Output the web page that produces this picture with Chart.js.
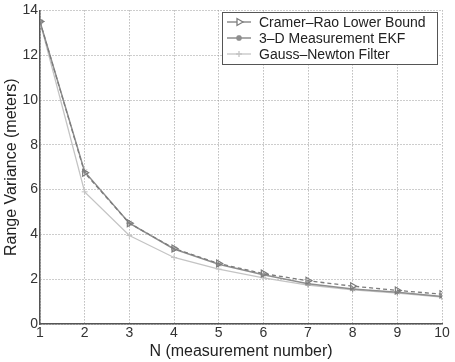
<!DOCTYPE html>
<html lang="en">
<head>
<meta charset="UTF-8">
<title>Range Variance vs N</title>
<script src="https://cdn.jsdelivr.net/npm/chart.js"></script>
<style>
    html, body { margin: 0; padding: 0; background: #ffffff; }
    #wrap { width: 455px; height: 362px; }
</style>
</head>
<body>
<div id="wrap"><canvas id="chart" width="455" height="362"></canvas></div>
<script>
// measurement count N
const nValues = [1, 2, 3, 4, 5, 6, 7, 8, 9, 10];
// range variance (meters) for each estimator
const crlb = [13.5, 6.75, 4.5, 3.37, 2.7, 2.25, 1.93, 1.69, 1.5, 1.33];
const ekf = [13.5, 6.8, 4.5, 3.35, 2.67, 2.2, 1.8, 1.56, 1.42, 1.23];
const gaussNewton = [13.5, 5.9, 3.95, 2.97, 2.45, 2.06, 1.74, 1.52, 1.38, 1.2];
const yTicks = [0, 2, 4, 6, 8, 10, 12, 14];

const FONT = "'Liberation Sans', Helvetica, Arial, sans-serif";
const toPoints = ys => nValues.map((n, i) => ({ x: n, y: ys[i] }));

// boxed legend in the upper right corner of the plot
const boxLegend = {
    id: 'boxLegend',
    afterDraw(chart) {
        const ctx = chart.ctx;
        const x0 = 222, y0 = 12, w = 215, h = 52;
        ctx.save();
        ctx.fillStyle = '#ffffff';
        ctx.fillRect(x0, y0, w, h);
        ctx.strokeStyle = '#555';
        ctx.lineWidth = 1;
        ctx.strokeRect(x0 + 0.5, y0 + 0.5, w, h);
        ctx.font = '14px ' + FONT;
        ctx.textBaseline = 'middle';
        chart.data.datasets.forEach((ds, i) => {
            const y = y0 + 10 + i * 16;
            ctx.strokeStyle = ds.borderColor;
            ctx.lineWidth = ds.borderWidth;
            ctx.setLineDash([]);
            ctx.beginPath();
            ctx.moveTo(x0 + 5, y);
            ctx.lineTo(x0 + 29, y);
            ctx.stroke();
            if (Chart.helpers && Chart.helpers.drawPoint) {
                Chart.helpers.drawPoint(ctx, {
                    pointStyle: ds.pointStyle,
                    rotation: ds.pointRotation || 0,
                    radius: ds.pointRadius,
                    borderWidth: ds.pointBorderWidth || 1
                }, x0 + 17, y);
            }
            ctx.fillStyle = '#222';
            ctx.fillText(ds.label, x0 + 37, y + 1);
        });
        ctx.restore();
    }
};

new Chart(document.getElementById('chart'), {
    type: 'line',
    data: {
        datasets: [{
            label: 'Cramer\u2013Rao Lower Bound',
            data: toPoints(crlb),
            borderColor: '#7c7c7c',
            borderWidth: 1.3,
            borderDash: [4, 3],
            pointStyle: 'triangle',
            pointRotation: 90,
            pointRadius: 4,
            pointBorderWidth: 1.2,
            pointBackgroundColor: 'rgba(255,255,255,0)',
            pointBorderColor: '#7c7c7c'
        }, {
            label: '3\u2013D Measurement EKF',
            data: toPoints(ekf),
            borderColor: '#8e8e8e',
            borderWidth: 1.5,
            pointStyle: 'star',
            pointRadius: 3,
            pointBorderWidth: 1,
            pointBackgroundColor: '#8e8e8e',
            pointBorderColor: '#8e8e8e'
        }, {
            label: 'Gauss\u2013Newton Filter',
            data: toPoints(gaussNewton),
            borderColor: '#c4c4c4',
            borderWidth: 1.3,
            pointStyle: 'cross',
            pointRadius: 3,
            pointBorderWidth: 1,
            pointBorderColor: '#c4c4c4'
        }]
    },
    options: {
        responsive: false,
        animation: false,
        devicePixelRatio: 1,
        layout: { padding: { top: 6, right: 13, left: 0, bottom: 0 } },
        plugins: { legend: { display: false }, tooltip: { enabled: false } },
        elements: { line: { tension: 0 } },
        scales: {
            x: {
                type: 'linear',
                min: 1,
                max: 10,
                afterFit: s => { s.height = 38; },
                ticks: {
                    stepSize: 1,
                    padding: 1,
                    color: '#333',
                    font: { family: FONT, size: 14 }
                },
                grid: { color: '#9a9a9a', lineWidth: 1, drawTicks: false },
                border: { color: '#555', width: 1.5, dash: [1, 2] },
                title: {
                    display: true,
                    text: 'N (measurement number)',
                    color: '#222',
                    padding: { top: 0, bottom: 1 },
                    font: { family: FONT, size: 16 }
                }
            },
            y: {
                min: 0,
                max: 14,
                afterFit: s => { s.width = 40; },
                afterBuildTicks: s => { s.ticks = yTicks.map(v => ({ value: v })); },
                ticks: {
                    padding: 2,
                    color: '#333',
                    font: { family: FONT, size: 14 }
                },
                grid: { color: '#9a9a9a', lineWidth: 1, drawTicks: false },
                border: { color: '#555', width: 1.5, dash: [1, 2] },
                title: {
                    display: true,
                    text: 'Range Variance (meters)',
                    color: '#222',
                    padding: { top: 2, bottom: 0 },
                    font: { family: FONT, size: 16 }
                }
            }
        }
    },
    plugins: [boxLegend]
});
</script>
</body>
</html>
